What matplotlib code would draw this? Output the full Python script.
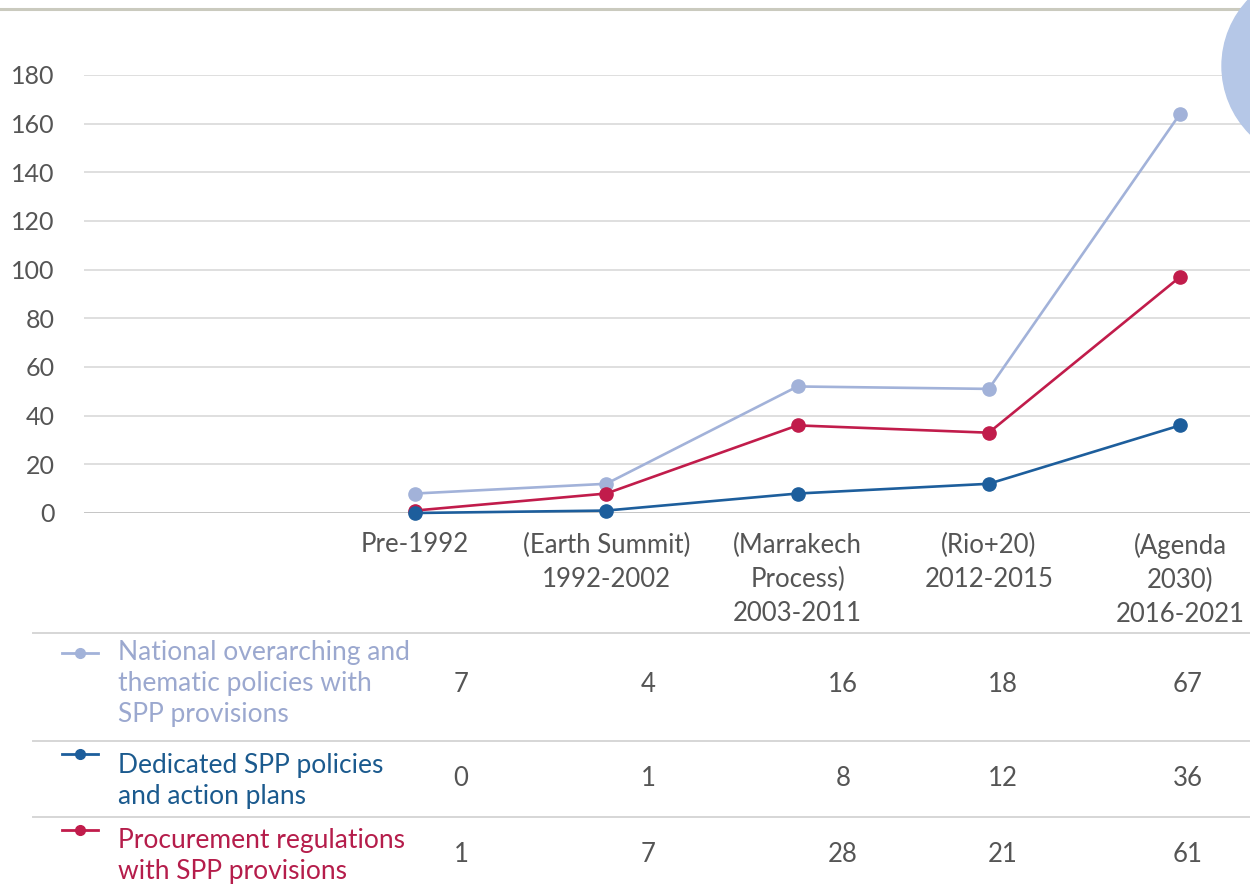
import matplotlib
matplotlib.use('Agg')
import matplotlib.pyplot as plt
from matplotlib.patches import Ellipse
from matplotlib.lines import Line2D
import numpy as np

# periods and series (counts per period)
periods = ['Pre-1992', '(Earth Summit)\n1992-2002', '(Marrakech\nProcess)\n2003-2011',
           '(Rio+20)\n2012-2015', '(Agenda\n2030)\n2016-2021']
national = [7, 4, 16, 18, 67]
dedicated = [0, 1, 8, 12, 36]
procurement = [1, 7, 28, 21, 61]

labels = ['National overarching and\nthematic policies with\nSPP provisions',
          'Dedicated SPP policies\nand action plans',
          'Procurement regulations\nwith SPP provisions']
colors = ['#a2b2d9', '#1d5e9c', '#c11c4b']
text_colors = ['#9ba8cf', '#1b5a8e', '#b51d4b']

num_font = 'Lato'
txt_font = 'Lato'

W, H = 1250, 886
fig = plt.figure(figsize=(W / 100, H / 100), dpi=100)

def fx(px):
    return px / W

def fy(py):
    return 1 - py / H

ax = fig.add_axes([fx(84), fy(513), fx(1250) - fx(84), fy(75) - fy(513)])
x = np.arange(len(periods))
ded = np.array(dedicated)
red_line = ded + np.array(procurement)
top_line = red_line + np.array(national)

# lines are stacked: blue, blue+red, all three
for vals, c in [(top_line, colors[0]), (red_line, colors[2]), (ded, colors[1])]:
    ax.plot(x, vals, color=c, lw=1.9, marker='o', ms=9.5, clip_on=False, zorder=3)

ax.set_xlim((84 - 415) / 191.25, (1250 - 415) / 191.25)
ax.set_ylim(0, 180)
ax.set_yticks(range(0, 181, 20))
ax.yaxis.grid(True, color='#dcdcdc', lw=1.3)
ax.set_axisbelow(True)
for s in ax.spines.values():
    s.set_visible(False)
ax.axhline(0, color='#c4c4c4', lw=2, zorder=1)
ax.set_xticks(x)
ax.set_xticklabels(periods, fontfamily=num_font, fontsize=18.5, color='#555555',
                   linespacing=1.45)
for lab in ax.get_yticklabels():
    lab.set_fontfamily(num_font)
    lab.set_fontsize(18)
    lab.set_color('#555555')
ax.tick_params(axis='both', length=0)
ax.tick_params(axis='y', pad=21)
ax.tick_params(axis='x', pad=14)

# top rule
fig.add_artist(Line2D([0, 1], [fy(9), fy(9)], color='#cacabe', lw=2.2))

# decorative circle at top right
fig.add_artist(Ellipse((fx(1318), fy(66)), fx(192), 192 / H, color='#b5c7e7', zorder=10))

# table below the chart
for ly in [633, 741, 817]:
    fig.add_artist(Line2D([fx(33), 1], [fy(ly), fy(ly)], color='#d6d6d6', lw=1.4))

rows = [national, dedicated, procurement]
row_colors = [colors[0], colors[1], colors[2]]
icon_y = [653, 754, 830]
text_top = [640, 753, 828]
value_y = [685, 779, 855]
col_x = [461, 648, 843, 1003, 1188]
for i, vals in enumerate(rows):
    fig.add_artist(Line2D([fx(62), fx(98)], [fy(icon_y[i]), fy(icon_y[i])],
                          color=row_colors[i], lw=2))
    fig.add_artist(Line2D([fx(80)], [fy(icon_y[i])], color=row_colors[i],
                          marker='o', ms=7))
    fig.text(fx(118), fy(text_top[i]), labels[i], fontfamily=txt_font, fontsize=19,
             color=text_colors[i], va='top', ha='left', linespacing=1.3)
    for cx, v in zip(col_x, vals):
        fig.text(fx(cx), fy(value_y[i]), str(v), fontfamily=num_font, fontsize=18.5,
                 color='#555555', ha='center', va='center')

fig.savefig('out.png', dpi=100)
